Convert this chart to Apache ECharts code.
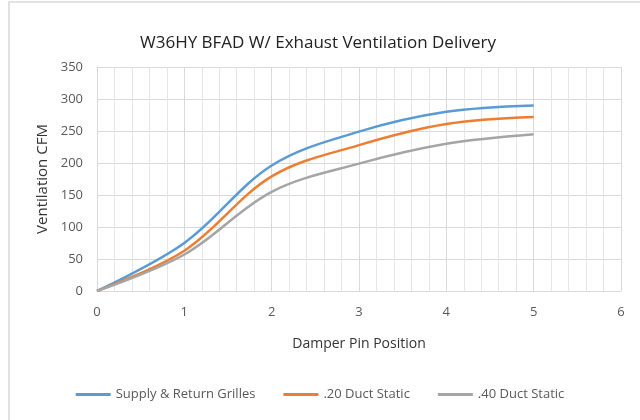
<!DOCTYPE html>
<html>
<head>
<meta charset="utf-8">
<script src="https://cdn.jsdelivr.net/npm/echarts@6/dist/echarts.min.js"></script>
<style>
    html, body { margin: 0; padding: 0; background: #fff; }
    #chart { width: 640px; height: 420px; }
</style>
</head>
<body>
<div id="chart"></div>
<script>
    // damper pin positions and CFM readings
    var pinPos = [0, 1, 2, 3, 4, 5];
    var supplyReturn = [0, 75, 196, 249, 280, 290];
    var duct20 = [0, 63, 179, 228, 261, 272];
    var duct40 = [0, 57, 155, 199, 230, 245];
    var seriesNames = ['Supply & Return Grilles', '.20 Duct Static', '.40 Duct Static'];
    var colors = ['#5B9BD5', '#ED7D31', '#A5A5A5'];

    function pairs(ys) {
        return pinPos.map(function (x, i) { return [x, ys[i]]; });
    }

    var myChart = echarts.init(document.getElementById('chart'));
    var txt = '#595959';
    var option = {
        color: colors,
        animation: false,
        title: {
            text: 'W36HY BFAD W/ Exhaust Ventilation Delivery',
            left: 313,
            top: 30,
            textAlign: 'center',
            textStyle: {
                fontFamily: '"Open Sans", sans-serif',
                fontSize: 17,
                fontWeight: 'normal',
                color: '#222'
            }
        },
        graphic: [{
            type: 'rect',
            shape: { x: 9, y: 2, width: 700, height: 500 },
            style: { fill: 'none', stroke: '#d9d9d9', lineWidth: 1.5 },
            silent: true,
            z: -1
        }],
        legend: {
            bottom: 14,
            left: 'center',
            icon: 'rect',
            itemWidth: 35,
            itemHeight: 3,
            itemGap: 28,
            textStyle: {
                fontFamily: '"Open Sans", sans-serif',
                fontSize: 13,
                color: txt
            },
            data: seriesNames
        },
        grid: { left: 97, right: 19, top: 67, bottom: 129 },
        xAxis: {
            type: 'value',
            min: 0,
            max: 6,
            interval: 1,
            name: 'Damper Pin Position',
            nameLocation: 'middle',
            nameGap: 46,
            nameTextStyle: { fontFamily: '"Open Sans", sans-serif', fontSize: 14, color: '#333' },
            axisLine: { lineStyle: { color: '#d9d9d9' } },
            axisTick: { show: false },
            axisLabel: { fontFamily: '"Open Sans", sans-serif', fontSize: 13, color: txt, margin: 15 },
            splitLine: { lineStyle: { color: '#d9d9d9' } },
            minorTick: { show: false, splitNumber: 5 },
            minorSplitLine: { show: true, lineStyle: { color: '#e6e6e6' } }
        },
        yAxis: {
            type: 'value',
            min: 0,
            max: 350,
            interval: 50,
            name: 'Ventilation CFM',
            nameLocation: 'middle',
            nameGap: 44,
            nameTextStyle: { fontFamily: '"Open Sans", sans-serif', fontSize: 15, fontWeight: 500, color: '#333' },
            axisLine: { show: true, lineStyle: { color: '#d9d9d9' } },
            axisTick: { show: false },
            axisLabel: { fontFamily: '"Open Sans", sans-serif', fontSize: 13, color: txt, margin: 14 },
            splitLine: { lineStyle: { color: '#d9d9d9' } }
        },
        series: [supplyReturn, duct20, duct40].map(function (ys, i) {
            return {
                name: seriesNames[i],
                type: 'line',
                smooth: 0.35,
                showSymbol: false,
                lineStyle: { width: 2.5 },
                data: pairs(ys)
            };
        })
    };
    myChart.setOption(option);
</script>
</body>
</html>
